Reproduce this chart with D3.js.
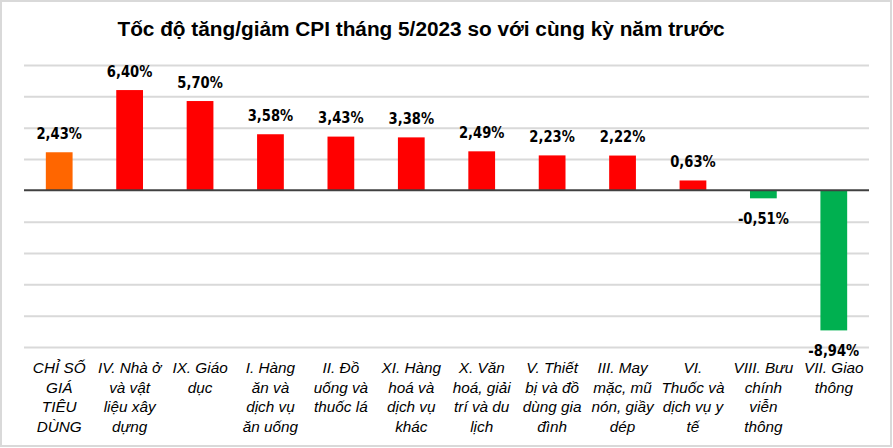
<!DOCTYPE html>
<html><head><meta charset="utf-8">
<script src="https://cdn.jsdelivr.net/npm/d3@7"></script>
<style>
html,body{margin:0;padding:0;background:#fff;}
svg{display:block;}
</style></head>
<body>
<svg id="chart" width="893" height="448"></svg>
<script>
const title = "Tốc độ tăng/giảm CPI tháng 5/2023 so với cùng kỳ năm trước";
const categories = [
  "CHỈ SỐ\nGIÁ\nTIÊU\nDÙNG",
  "IV. Nhà ở\nvà vật\nliệu xây\ndựng",
  "IX. Giáo\ndục",
  "I. Hàng\năn và\ndịch vụ\năn uống",
  "II. Đồ\nuống và\nthuốc lá",
  "XI. Hàng\nhoá và\ndịch vụ\nkhác",
  "X. Văn\nhoá, giải\ntrí và du\nlịch",
  "V. Thiết\nbị và đồ\ndùng gia\nđình",
  "III. May\nmặc, mũ\nnón, giầy\ndép",
  "VI.\nThuốc và\ndịch vụ y\ntế",
  "VIII. Bưu\nchính\nviễn\nthông",
  "VII. Giao\nthông"
];
const values = [2.43, 6.40, 5.70, 3.58, 3.43, 3.38, 2.49, 2.23, 2.22, 0.63, -0.51, -8.94];
const valueLabels = ["2,43%","6,40%","5,70%","3,58%","3,43%","3,38%","2,49%","2,23%","2,22%","0,63%","-0,51%","-8,94%"];
const yTicks = [-10, -8, -6, -4, -2, 2, 4, 6, 8];

const svg = d3.select("#chart");
const plot = {left: 24, right: 869, top: 65, bottom: 347};

svg.append("rect").attr("x", 1).attr("y", 1).attr("width", 890).attr("height", 445)
  .attr("fill", "#fff").attr("stroke", "#d9d9d9").attr("stroke-width", 2);

const x = d3.scaleBand().domain(categories).range([plot.left, plot.right])
  .paddingInner(0.62).paddingOuter(0.31);
const y = d3.scaleLinear().domain([-10, 8]).range([plot.bottom, plot.top]);

// gridlines
const grid = svg.append("g").attr("transform", `translate(${plot.left},0)`)
  .call(d3.axisLeft(y).tickValues(yTicks).tickSize(-(plot.right - plot.left)).tickFormat(""));
grid.select(".domain").remove();
grid.selectAll(".tick line").attr("stroke", "#d9d9d9").attr("stroke-width", 2);

// title
svg.append("text").attr("transform", "translate(421,36) scale(1.04,1)").attr("text-anchor", "middle")
  .attr("font-family", "Liberation Sans, Arial, sans-serif").attr("font-weight", "bold")
  .attr("font-size", 20).attr("fill", "#000").text(title);

function barColor(v, i) {
  if (i === 0) return "#ff6600";
  return v >= 0 ? "#ff0000" : "#00b050";
}

// bars
svg.append("g").selectAll("rect").data(values).join("rect")
  .attr("x", (d, i) => x(categories[i]))
  .attr("width", x.bandwidth())
  .attr("y", d => y(Math.max(0, d)))
  .attr("height", d => Math.abs(y(d) - y(0)))
  .attr("fill", (d, i) => barColor(d, i));

// zero axis
svg.append("line").attr("x1", plot.left).attr("x2", plot.right)
  .attr("y1", y(0)).attr("y2", y(0)).attr("stroke", "#404040").attr("stroke-width", 2);

// value labels
svg.append("g").selectAll("text").data(values).join("text")
  .attr("transform", (d, i) => {
    const cx = x(categories[i]) + x.bandwidth() / 2;
    const by = d >= 0 ? y(d) - 13.5 : y(d) + 26;
    return `translate(${cx},${by}) scale(0.82,1)`;
  })
  .attr("text-anchor", "middle")
  .attr("font-family", "DejaVu Sans, sans-serif").attr("font-weight", "bold")
  .attr("font-size", 16).attr("fill", "#000")
  .text((d, i) => valueLabels[i]);

// category labels
const catG = svg.append("g");
categories.forEach((c, i) => {
  const cx = x(c) + x.bandwidth() / 2;
  const t = catG.append("text").attr("text-anchor", "middle")
    .attr("font-family", "Liberation Sans, Arial, sans-serif").attr("font-style", "italic")
    .attr("font-size", 15.3).attr("fill", "#000");
  c.split("\n").forEach((line, j) => {
    t.append("tspan").attr("x", cx).attr("y", 373 + j * 19.5).text(line);
  });
});
</script>
</body></html>
